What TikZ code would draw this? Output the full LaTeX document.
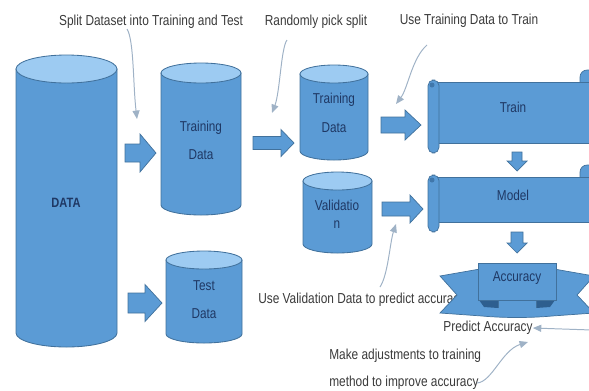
\documentclass[tikz,border=0pt]{standalone}
\usepackage{fontspec}
\setmainfont{Liberation Sans}[FakeStretch=0.82]
\usetikzlibrary{arrows.meta}

\definecolor{dbfill}{HTML}{5B9BD5}
\definecolor{dbtop}{HTML}{9DCBF2}
\definecolor{dbline}{HTML}{41719C}
\definecolor{dbtext}{HTML}{1F3864}
\definecolor{notetext}{HTML}{3A3A3A}
\definecolor{noteline}{HTML}{9FB2C6}
\definecolor{foldfill}{HTML}{2E5F8F}

% cylinder: left x, right x, top y, bottom y, y radius
\newcommand{\dbcyl}[5]{%
  \draw[cylbody] (#1,#3) -- (#1,#4) arc[start angle=180, end angle=0, x radius={(#2-#1)/2}, y radius=#5] -- (#2,#3) -- cycle;
  \draw[cyltop] ({(#1+#2)/2},#3) ellipse[x radius={(#2-#1)/2}, y radius=#5];
}
% block arrow to the right: tail, head start, tip, y, shaft half, head half
\newcommand{\rarrow}[6]{%
  \draw[blockarrow] (#1,{#4-#5}) -- (#2,{#4-#5}) -- (#2,{#4-#6}) -- (#3,#4) -- (#2,{#4+#6}) -- (#2,{#4+#5}) -- (#1,{#4+#5}) -- cycle;
}
% block arrow downwards
\newcommand{\darrow}[6]{%
  \draw[blockarrow] ({#4-#5},#1) -- ({#4-#5},#2) -- ({#4-#6},#2) -- (#4,#3) -- ({#4+#6},#2) -- ({#4+#5},#2) -- ({#4+#5},#1) -- cycle;
}
% horizontal scroll: top y, bottom y
\newcommand{\hscroll}[2]{%
  \draw[scroll, rounded corners=5] (580,{#1-12}) rectangle (598,{#2-10});
  \draw[scroll] (433,#1) rectangle (600,#2);
  \draw[scroll, rounded corners=4] (428,{#1-2}) rectangle (439,{#2+10});
  \fill[foldfill!60!dbfill] (432,{#1+3}) circle[radius=2.5];
}

\begin{document}
\begin{tikzpicture}[x=0.025cm, y=-0.025cm,
  cylbody/.style={fill=dbfill, draw=dbline, line width=0.6pt},
  cyltop/.style={fill=dbtop, draw=dbline, line width=0.6pt},
  blockarrow/.style={fill=dbfill, draw=dbline, line width=0.5pt},
  scroll/.style={fill=dbfill, draw=dbline, line width=0.5pt},
  dblabel/.style={text=dbtext, font=\fontsize{10.2}{20}\selectfont, align=center, inner sep=0},
  note/.style={text=notetext, font=\fontsize{10.3}{19}\selectfont, inner sep=0},
  notearrow/.style={draw=noteline, line width=0.7pt, -{Triangle[length=6pt,width=5pt]}}]
\useasboundingbox (0,0) rectangle (589,390);
\clip (0,0) rectangle (589,390);

% data stores
\dbcyl{16}{117}{69}{333}{14}
\dbcyl{161}{241}{73}{205}{10}
\dbcyl{166}{242}{260}{334}{9}
\dbcyl{300}{368}{74}{151}{9}
\dbcyl{303}{372}{181}{244}{9}
\node[dblabel, font=\bfseries\fontsize{9.6}{12}\selectfont] (data) at (66,203) {DATA};
\node[dblabel] (traindata) at (201,140) {Training\\Data};
\node[dblabel] (testdata) at (204,300) {Test\\Data};
\node[dblabel, font=\fontsize{10.2}{21}\selectfont] (trainsplit) at (334,113) {Training\\Data};
\node[dblabel, font=\fontsize{10.2}{13}\selectfont] (valdata) at (337,214) {Validatio\\n};

% block arrows
\rarrow{125}{140}{156}{153}{9}{19}
\rarrow{253}{281}{294}{143}{6.5}{13.5}
\rarrow{128}{145}{162}{303}{10}{18.5}
\rarrow{381}{405}{421}{125}{8}{15}
\rarrow{382}{410}{423}{209}{7}{14}

% train and model
\hscroll{82}{143}
\hscroll{177}{222}
\node[dblabel] (train) at (513,107) {Train};
\node[dblabel] (model) at (513,195) {Model};
\darrow{152}{161}{171}{517}{5}{10}
\darrow{232}{243}{253}{517}{6}{10}

% note under the ribbon
\node[note, anchor=west] (lblval) at (258,300) {Use Validation Data to predict accuracy};

% accuracy ribbon
\draw[scroll] (440,276) -- (480,269) -- (554,269) -- (594,276)
  -- (577,295) -- (594,313) -- (552,316) .. controls (530,318) and (504,318) .. (482,316)
  -- (440,313) -- (457,295) -- cycle;
\fill[foldfill] (479,300) -- (498,300) -- (498,308) -- (484,307) -- cycle;
\fill[foldfill] (555,300) -- (536,300) -- (536,308) -- (550,307) -- cycle;
\draw[dbline, line width=0.5pt] (498,300) -- (498,308) (536,300) -- (536,308);
\draw[scroll] (478,263) rectangle (556,300);
\node[dblabel] (accuracy) at (517,278) {Accuracy};

% notes
\node[note] (lblsplit) at (151,22) {Split Dataset into Training and Test};
\node[note] (lblpick) at (316,22) {Randomly pick split};
\node[note] (lbltrain) at (469,21) {Use Training Data to Train};
\node[note] (lblpredict) at (488,328) {Predict Accuracy};
\node[note, anchor=west, align=left] (lbladjust) at (329,369) {Make adjustments to training\\method to improve accuracy};

\coordinate (splitfrom) at (127,29);
\coordinate (splitto) at (137,119);
\coordinate (pickfrom) at (287,40);
\coordinate (pickto) at (272,113);
\coordinate (trainfrom) at (427,45);
\coordinate (trainto) at (396,104);
\coordinate (valfrom) at (380,287);
\coordinate (valto) at (396,224);
\coordinate (predictfrom) at (592,330);
\coordinate (adjustfrom) at (477,383);
\coordinate (adjustto) at (528,342);

\draw[notearrow] (splitfrom) .. controls (134,40) and (133,85) .. (splitto);
\draw[notearrow] (pickfrom) .. controls (281,48) and (280,92) .. (pickto);
\draw[notearrow] (trainfrom) .. controls (412,58) and (408,88) .. (trainto);
\draw[notearrow] (valfrom) .. controls (388,275) and (390,242) .. (valto);
\draw[notearrow] (predictfrom) -- (lblpredict.east);
\draw[notearrow] (adjustfrom) .. controls (492,382) and (502,350) .. (adjustto);
\end{tikzpicture}
\end{document}
